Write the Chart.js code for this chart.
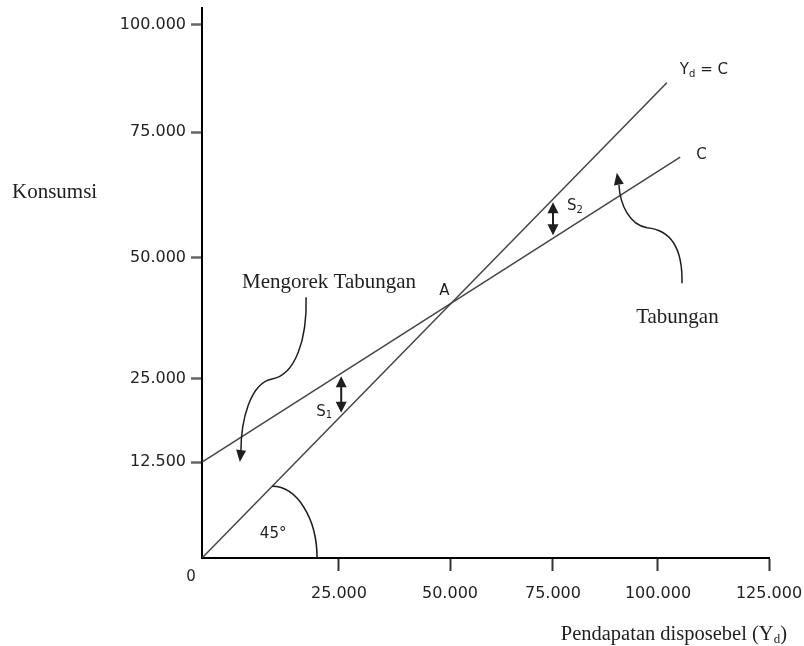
<!DOCTYPE html>
<html>
<head>
<meta charset="utf-8">
<title>Fungsi Konsumsi</title>
<script src="https://cdn.jsdelivr.net/npm/chart.js@4.4.1/dist/chart.umd.min.js"></script>
<style>
  html, body { margin: 0; padding: 0; background: #fff; }
  #wrap { width: 804px; height: 646px; }
</style>
</head>
<body>
<div id="wrap"><canvas id="chart"></canvas></div>
<script>
// values
const xTicks = [25000, 50000, 75000, 100000, 125000];
const yTicks = [12500, 25000, 50000, 75000, 100000];

const ydLineX = [0, 102000];    // 45 degree line, Yd = C
const ydLineY = [0, 86500];
const consLineX = [0, 105000];  // consumption function C
const consLineY = [12500, 70000];

// guides for the notes, same units as the axes
const s1At = 25500;
const s2At = 75000;
const angleArcX = [12800, 21000];
const borrowCurve = [[19000, 41900], [19200, 33100], [17000, 25800], [12800, 25000], [8800, 24400], [7100, 18800], [7100, 14000]];
const borrowTip = [6900, 12500];
const savingCurve = [[105400, 44800], [105600, 52600], [102300, 55600], [97400, 56000], [93300, 56500], [91000, 60500], [90700, 64500]];
const savingTip = [90200, 66900];
const borrowLabelAt = [7300, 45000];
const savingLabelAt = [94800, 37800];
const consLabelAt = 63000;

const SANS = "'DejaVu Sans', Verdana, sans-serif";
const SERIF = "'Liberation Serif', 'Times New Roman', serif";

// the drawing is not to scale: ticks are spaced by hand, so the axes
// map values piecewise between these (value, share of axis length) stops
const scaleStops = {
  x: [[0, 0], [25000, 0.2416], [50000, 0.4374], [75000, 0.6190], [100000, 0.8042], [125000, 1]],
  y: [[0, 0], [12500, 0.1745], [25000, 0.3255], [50000, 0.5455], [75000, 0.7745], [100000, 0.9691], [104000, 1]],
};

function toShare(stops, v) {
  for (let i = 1; i < stops.length; i += 1) {
    if (v <= stops[i][0] || i === stops.length - 1) {
      const a = stops[i - 1], b = stops[i];
      return a[1] + (v - a[0]) / (b[0] - a[0]) * (b[1] - a[1]);
    }
  }
  return 0;
}

function fromShare(stops, d) {
  for (let i = 1; i < stops.length; i += 1) {
    if (d <= stops[i][1] || i === stops.length - 1) {
      const a = stops[i - 1], b = stops[i];
      return a[0] + (d - a[1]) / (b[1] - a[1]) * (b[0] - a[0]);
    }
  }
  return 0;
}

class SketchScale extends Chart.LinearScale {
  static id = "sketch";
  static defaults = Chart.LinearScale.defaults;
  getPixelForValue(value) {
    if (value === null || value === undefined) return NaN;
    return this.getPixelForDecimal(toShare(scaleStops[this.id], value));
  }
  getValueForPixel(pixel) {
    return fromShare(scaleStops[this.id], this.getDecimalForPixel(pixel));
  }
}
Chart.register(SketchScale);

function formatThousands(v) {
  return String(v).replace(/\B(?=(\d{3})+(?!\d))/g, ".");
}

function toPoints(xs, ys) {
  return xs.map((v, i) => ({ x: v, y: ys[i] }));
}

function arrowHead(ctx, fx, fy, tx, ty, len, half) {
  const ang = Math.atan2(ty - fy, tx - fx);
  ctx.beginPath();
  ctx.moveTo(tx, ty);
  ctx.lineTo(tx - len * Math.cos(ang) + half * Math.sin(ang), ty - len * Math.sin(ang) - half * Math.cos(ang));
  ctx.lineTo(tx - len * Math.cos(ang) - half * Math.sin(ang), ty - len * Math.sin(ang) + half * Math.cos(ang));
  ctx.closePath();
  ctx.fill();
}

function subText(ctx, parts, x, y, size) {
  // parts: [text, isSub]
  let cx = x;
  parts.forEach(([t, sub]) => {
    ctx.font = (sub ? Math.round(size * 0.68) : size) + "px " + SANS;
    ctx.fillText(t, cx, sub ? y + size * 0.28 : y);
    cx += ctx.measureText(t).width;
  });
}

const sketchNotes = {
  id: "sketchNotes",
  afterDraw(chart) {
    const { ctx, chartArea } = chart;
    const sx = chart.scales.x, sy = chart.scales.y;
    const px = (v) => sx.getPixelForValue(v);
    const py = (v) => sy.getPixelForValue(v);
    const lineAt = (xs, ys, v) => {
      const x0 = px(xs[0]), x1 = px(xs[1]);
      const y0 = py(ys[0]), y1 = py(ys[1]);
      return y0 + (px(v) - x0) / (x1 - x0) * (y1 - y0);
    };

    ctx.save();
    ctx.fillStyle = "#1e1e1e";
    ctx.strokeStyle = "#1e1e1e";
    ctx.textBaseline = "middle";

    // S1 / S2 double arrows between the lines
    [[s1At, "1", -25, "bottom"], [s2At, "2", 14, "top"]].forEach(([v, n, dx, side]) => {
      const ax = px(v);
      const a = lineAt(ydLineX, ydLineY, v), b = lineAt(consLineX, consLineY, v);
      const top = Math.min(a, b) + 3, bot = Math.max(a, b) - 3;
      ctx.lineWidth = 2;
      ctx.beginPath();
      ctx.moveTo(ax, top + 6);
      ctx.lineTo(ax, bot - 6);
      ctx.stroke();
      arrowHead(ctx, ax, bot, ax, top, 11, 5.5);
      arrowHead(ctx, ax, top, ax, bot, 11, 5.5);
      ctx.textAlign = "left";
      subText(ctx, [["S", false], [n, true]], ax + dx, side === "bottom" ? bot - 1 : top + 4, 15);
    });

    // point A where the two lines meet
    const ax0 = px(ydLineX[0]), ay0 = py(ydLineY[0]);
    const m1 = (py(ydLineY[1]) - ay0) / (px(ydLineX[1]) - ax0);
    const bx0 = px(consLineX[0]), by0 = py(consLineY[0]);
    const m2 = (py(consLineY[1]) - by0) / (px(consLineX[1]) - bx0);
    const ix = (by0 - m2 * bx0 - ay0 + m1 * ax0) / (m1 - m2);
    const iy = ay0 + m1 * (ix - ax0);
    ctx.font = "15px " + SANS;
    ctx.textAlign = "center";
    ctx.fillText("A", ix - 7, iy - 12);

    // line names at their ends
    ctx.textAlign = "left";
    subText(ctx, [["Y", false], ["d", true], [" = C", false]], px(ydLineX[1]) + 13, py(ydLineY[1]) - 13, 15);
    ctx.font = "15px " + SANS;
    ctx.fillText("C", px(consLineX[1]) + 16, py(consLineY[1]) - 2);

    // 45 degree arc
    const cx = px(angleArcX[0]);
    const base = py(0);
    const topY = lineAt(ydLineX, ydLineY, angleArcX[0]);
    ctx.lineWidth = 1.6;
    ctx.beginPath();
    ctx.ellipse(cx, base, px(angleArcX[1]) - cx, base - topY, 0, -Math.PI / 2, 0);
    ctx.stroke();
    ctx.font = "15px " + SANS;
    ctx.textAlign = "center";
    ctx.fillText("45°", cx + 1, base - 24);

    // origin
    ctx.fillText("0", px(0) - 11, base + 19);

    // curved pointers
    [[borrowCurve, borrowTip], [savingCurve, savingTip]].forEach(([pts, tip]) => {
      const p = pts.map(([a, b]) => [px(a), py(b)]);
      ctx.lineWidth = 1.5;
      ctx.beginPath();
      ctx.moveTo(p[0][0], p[0][1]);
      ctx.bezierCurveTo(p[1][0], p[1][1], p[2][0], p[2][1], p[3][0], p[3][1]);
      ctx.bezierCurveTo(p[4][0], p[4][1], p[5][0], p[5][1], p[6][0], p[6][1]);
      ctx.stroke();
      arrowHead(ctx, p[6][0], p[6][1], px(tip[0]), py(tip[1]), 12, 5);
    });

    // serif labels
    ctx.font = "21px " + SERIF;
    ctx.textAlign = "left";
    ctx.fillText("Mengorek Tabungan", px(borrowLabelAt[0]), py(borrowLabelAt[1]));
    ctx.fillText("Tabungan", px(savingLabelAt[0]), py(savingLabelAt[1]));
    ctx.fillText("Konsumsi", 12, py(consLabelAt));

    // x axis title, with subscript
    ctx.textAlign = "left";
    const title = "Pendapatan disposebel (Y";
    ctx.font = "20.5px " + SERIF;
    const w1 = ctx.measureText(title).width;
    ctx.font = "13px " + SERIF;
    const w2 = ctx.measureText("d").width;
    ctx.font = "20.5px " + SERIF;
    const w3 = ctx.measureText(")").width;
    const tx = chartArea.right + 18 - (w1 + w2 + w3);
    const ty = chartArea.bottom + 77;
    ctx.fillText(title, tx, ty);
    ctx.font = "13px " + SERIF;
    ctx.fillText("d", tx + w1, ty + 5);
    ctx.font = "20.5px " + SERIF;
    ctx.fillText(")", tx + w1 + w2, ty);

    ctx.restore();
  },
};

function axisFit(size, key) {
  return function (scale) {
    scale[key] = size;
    scale.paddingTop = 0;
    scale.paddingBottom = 0;
    scale.paddingLeft = 0;
    scale.paddingRight = 0;
  };
}

new Chart(document.getElementById("chart"), {
  type: "scatter",
  data: {
    datasets: [
      {
        label: "Yd = C",
        data: toPoints(ydLineX, ydLineY),
        showLine: true,
        borderColor: "#444",
        borderWidth: 1.5,
        pointRadius: 0,
        fill: false,
      },
      {
        label: "C",
        data: toPoints(consLineX, consLineY),
        showLine: true,
        borderColor: "#444",
        borderWidth: 1.5,
        pointRadius: 0,
        fill: false,
      },
    ],
  },
  options: {
    responsive: true,
    maintainAspectRatio: false,
    animation: false,
    layout: { padding: { top: 8, right: 35, left: 0, bottom: 0 } },
    plugins: { legend: { display: false }, tooltip: { enabled: false } },
    scales: {
      x: {
        type: "sketch",
        min: 0,
        max: 125000,
        afterBuildTicks: (scale) => { scale.ticks = xTicks.map((v) => ({ value: v })); },
        afterFit: axisFit(88, "height"),
        grid: { drawOnChartArea: false, drawTicks: true, tickLength: 13, tickColor: "#333", tickWidth: 2 },
        border: { display: true, color: "#000", width: 2 },
        ticks: {
          autoSkip: false,
          maxRotation: 0,
          minRotation: 0,
          padding: 13,
          color: "#222",
          font: { family: SANS, size: 16 },
          callback: (v) => formatThousands(v),
        },
      },
      y: {
        type: "sketch",
        min: 0,
        max: 104000,
        afterBuildTicks: (scale) => { scale.ticks = yTicks.map((v) => ({ value: v })); },
        afterFit: axisFit(202, "width"),
        grid: { drawOnChartArea: false, drawTicks: true, tickLength: 11, tickColor: "#666", tickWidth: 2.5 },
        border: { display: true, color: "#000", width: 2 },
        ticks: {
          autoSkip: false,
          padding: 5,
          color: "#222",
          font: { family: SANS, size: 16 },
          callback: (v) => formatThousands(v),
        },
      },
    },
  },
  plugins: [sketchNotes],
});
</script>
</body>
</html>
